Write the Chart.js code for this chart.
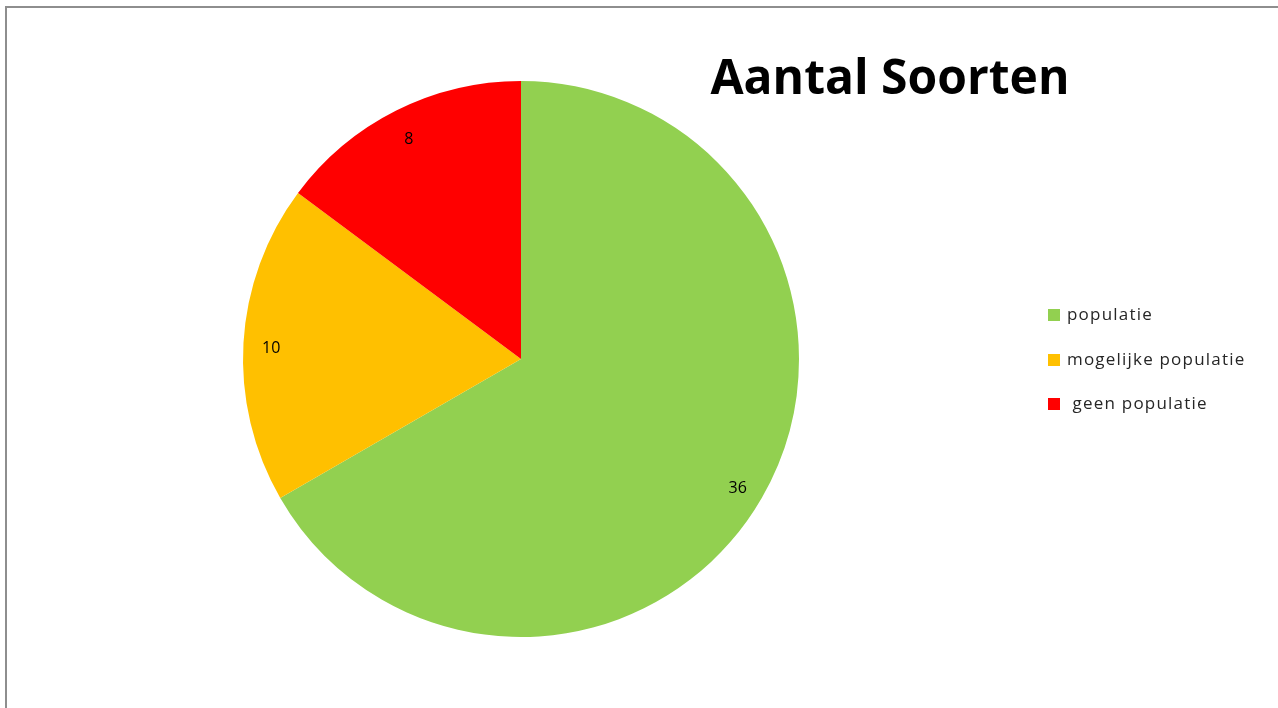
<!DOCTYPE html>
<html lang="nl">
<head>
<meta charset="UTF-8">
<title>Aantal Soorten</title>
<script src="https://cdn.jsdelivr.net/npm/chart.js"></script>
<style>
    html, body { margin: 0; padding: 0; background: #fff; overflow: hidden; }
    .wrap { position: relative; width: 1278px; height: 708px; }
    .frame {
        position: absolute; left: 5px; top: 6px; width: 1400px; height: 800px;
        border-left: 2px solid #8e8e8e; border-top: 2px solid #8e8e8e;
        pointer-events: none;
    }
</style>
</head>
<body>
<div class="wrap">
    <canvas id="grafiek" width="1278" height="708"></canvas>
    <div class="frame"></div>
</div>

<script>
    // data
    const categorieen = ['populatie', 'mogelijke populatie', ' geen populatie'];
    const aantallen = [36, 10, 8];
    const kleuren = ['#92D050', '#FFC000', '#FF0000'];
    const titel = 'Aantal Soorten';

    // getallen in de taartpunten + titel + legenda
    const extraTekst = {
        id: 'extraTekst',
        afterDraw(chart) {
            const ctx = chart.ctx;
            const meta = chart.getDatasetMeta(0);
            ctx.save();

            // waarden
            ctx.font = '16px "Open Sans"';
            ctx.fillStyle = '#000';
            ctx.textAlign = 'center';
            ctx.textBaseline = 'middle';
            meta.data.forEach(function (arc, i) {
                const mid = (arc.startAngle + arc.endAngle) / 2;
                const r = arc.outerRadius * 0.9;
                ctx.fillText(String(aantallen[i]), arc.x + Math.cos(mid) * r, arc.y + Math.sin(mid) * r + 4);
            });

            // titel
            ctx.font = 'bold 48px "Open Sans"';
            ctx.textBaseline = 'alphabetic';
            ctx.fillText(titel, 890, 94);

            // legenda
            ctx.font = '17px "Open Sans"';
            ctx.letterSpacing = '1.2px';
            ctx.textAlign = 'left';
            ctx.textBaseline = 'middle';
            const yPos = [315, 360, 404];
            categorieen.forEach(function (naam, i) {
                ctx.fillStyle = kleuren[i];
                ctx.fillRect(1048, yPos[i] - 6, 12, 12);
                ctx.fillStyle = '#262626';
                ctx.fillText(naam, 1067, yPos[i]);
            });
            ctx.restore();
        }
    };

    new Chart(document.getElementById('grafiek'), {
        type: 'pie',
        data: {
            labels: categorieen,
            datasets: [{
                data: aantallen,
                backgroundColor: kleuren,
                borderWidth: 0,
                hoverOffset: 0
            }]
        },
        options: {
            responsive: false,
            animation: false,
            layout: { padding: { left: 243, right: 479, top: 81, bottom: 71 } },
            plugins: {
                legend: { display: false },
                tooltip: { enabled: false },
                title: { display: false }
            }
        },
        plugins: [extraTekst]
    });
</script>
</body>
</html>
